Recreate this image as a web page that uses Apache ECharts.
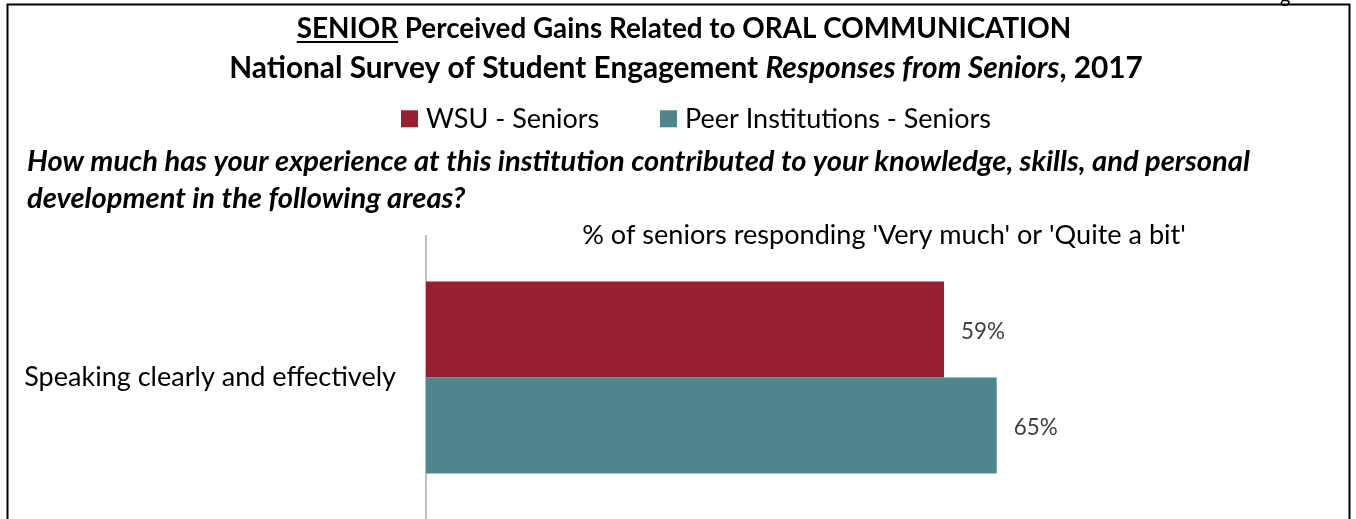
<!DOCTYPE html>
<html><head><meta charset="utf-8">
<script src="https://cdn.jsdelivr.net/npm/echarts@6/dist/echarts.min.js"></script>
<style>html,body{margin:0;padding:0;background:#fff}#c{width:1356px;height:519px}</style>
</head><body><div id="c"></div>
<script>
const categories = ['Speaking clearly and effectively'];
const seriesNames = ['WSU - Seniors', 'Peer Institutions - Seniors'];
const wsuValues = [59];
const peerValues = [65];
const titleLine1Lead = 'SENIOR';
const titleLine1Rest = ' Perceived Gains Related to ORAL COMMUNICATION';
const titleLine2 = ['National Survey of Student Engagement ', 'Responses from Seniors', ', 2017'];
const questionLines = ['How much has your experience at this institution contributed to your knowledge, skills, and personal', 'development in the following areas?'];
const axisTitle = "% of seniors responding 'Very much' or 'Quite a bit'";

const FONT = 'Lato';
const chart = echarts.init(document.getElementById('c'), null, {renderer: 'canvas'});

const ctx = document.createElement('canvas').getContext('2d');
function w(text, font) { ctx.font = font; return ctx.measureText(text).width; }
// font size that makes text span target width
function fit(text, style, target) { return +(20 * target / w(text, style + ' 20px ' + FONT)).toFixed(2); }

const t1Size = fit(titleLine1Lead + titleLine1Rest, 'bold', 775);
const tFont = 'bold ' + t1Size + 'px ' + FONT;
const l1w = w(titleLine1Lead + titleLine1Rest, tFont);
const leadW = w(titleLine1Lead, tFont);
const l1x = 684 - l1w / 2;

const t2a = w(titleLine2[0] + titleLine2[2], 'bold 20px ' + FONT) + w(titleLine2[1], 'italic bold 20px ' + FONT);
const t2Size = +(20 * 914 / t2a).toFixed(2);
const qSize = fit(questionLines[0], 'italic bold', 1223);
const catSize = fit(categories[0], '', 372);
const legSize = fit(seriesNames[1], '', 306);
const axSize = fit(axisTitle, '', 604);
const lblSize = fit('59%', '', 44);
const wsuLegW = w(seriesNames[0], legSize + 'px ' + FONT);

chart.setOption({
  animation: false,
  textStyle: {fontFamily: FONT},
  legend: {
    data: seriesNames, left: 401, top: 121.5 - legSize * 0.6, padding: 0, icon: 'rect', itemWidth: 17, itemHeight: 17,
    itemGap: 661 - (401 + 17 + 8 + wsuLegW) - 1,
    textStyle: {fontSize: legSize, color: '#000', fontFamily: FONT, padding: [0, 0, 0, 3]}
  },
  grid: {left: 426, right: 52, top: 236, bottom: 0, containLabel: false},
  xAxis: {type: 'value', min: 0, max: 100, show: false},
  yAxis: {
    type: 'category', data: categories, inverse: true,
    axisLine: {lineStyle: {color: '#bfbfbf', width: 2}},
    axisTick: {show: false},
    axisLabel: {fontSize: catSize, color: '#000', margin: 30, fontFamily: FONT}
  },
  series: [
    {name: seriesNames[0], type: 'bar', data: wsuValues, barWidth: 96, barGap: '0%',
     itemStyle: {color: '#971f32'},
     label: {show: true, position: 'right', distance: 17, offset: [0, 2], formatter: '{c}%', fontSize: lblSize, color: '#404040', fontFamily: FONT}},
    {name: seriesNames[1], type: 'bar', data: peerValues, barWidth: 96, barGap: '0%',
     itemStyle: {color: '#4f858c'},
     label: {show: true, position: 'right', distance: 17, offset: [0, 2], formatter: '{c}%', fontSize: lblSize, color: '#404040', fontFamily: FONT}}
  ],
  graphic: [
    {type: 'rect', shape: {x: 7.5, y: 4.5, width: 1342, height: 540}, style: {fill: 'none', stroke: '#000', lineWidth: 2}, z: 100},
    {type: 'text', left: 1280, top: -13, style: {text: 'g', fontSize: 20, fill: '#000', fontFamily: FONT}},
    {type: 'text', x: l1x, y: 29, style: {
      text: '{u|' + titleLine1Lead + '}{b|' + titleLine1Rest + '}', textVerticalAlign: 'middle', textAlign: 'left',
      rich: {u: {font: tFont, fill: '#000'}, b: {font: tFont, fill: '#000'}}}},
    {type: 'line', shape: {x1: l1x, y1: 42, x2: l1x + leadW, y2: 42}, style: {stroke: '#000', lineWidth: 2}},
    {type: 'text', x: 686, y: 68, style: {
      text: '{b|' + titleLine2[0] + '}{i|' + titleLine2[1] + '}{b|' + titleLine2[2] + '}', textAlign: 'center', textVerticalAlign: 'middle',
      rich: {b: {font: 'bold ' + t2Size + 'px ' + FONT, fill: '#000'}, i: {font: 'italic bold ' + t2Size + 'px ' + FONT, fill: '#000'}}}},
    {type: 'text', x: 27, y: 162, style: {text: questionLines[0], font: 'italic bold ' + qSize + 'px ' + FONT, fill: '#000', textVerticalAlign: 'middle'}},
    {type: 'text', x: 27, y: 199, style: {text: questionLines[1], font: 'italic bold ' + qSize + 'px ' + FONT, fill: '#000', textVerticalAlign: 'middle'}},
    {type: 'text', x: 884, y: 235, style: {text: axisTitle, font: axSize + 'px ' + FONT, fill: '#000', textAlign: 'center', textVerticalAlign: 'middle'}}
  ]
});
</script></body></html>
